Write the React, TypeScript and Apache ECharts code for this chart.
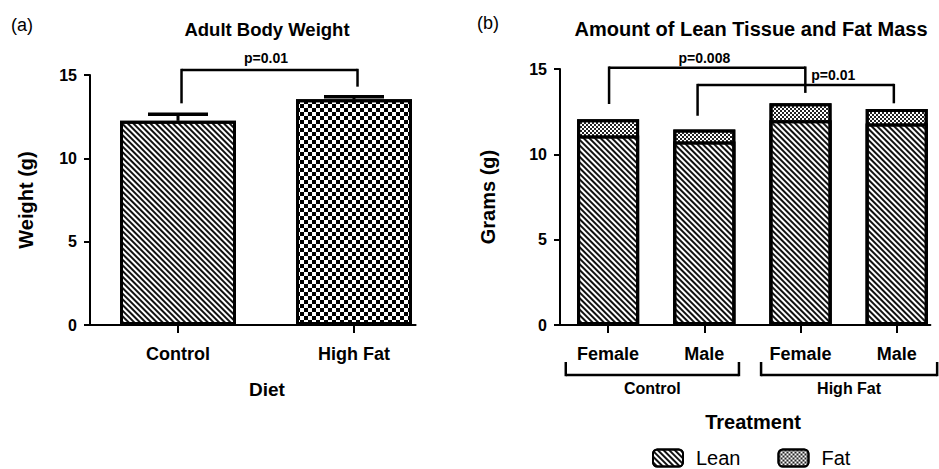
import React, { useEffect, useRef } from 'react';
import * as echarts from 'echarts';

// ---------- data ----------
const dietCategories = ['Control', 'High Fat'];
const bodyWeight = [12.25, 13.54];
const bodyWeightSEM = [0.4, 0.16];

const sexCategories = ['Female', 'Male', 'Female', 'Male'];
const leanMass = [11.1, 10.75, 12.0, 11.8];
const fatMass = [0.95, 0.7, 1.0, 0.85];

const yTickValues = [0, 5, 10, 15];

// significance brackets: [xStart, xEnd, yTop, yLeftEnd, yRightEnd, labelX]
const bracketsA = [[0.02, 1.02, 15.3, 13.3, 14.3, 0.5]];
const bracketLabelsA = ['p=0.01'];
const bracketsB = [
  [0.01, 2.05, 15.08, 12.95, 13.6, 1.0],
  [0.93, 2.97, 14.06, 12.26, 12.99, 2.34],
];
const bracketLabelsB = ['p=0.008', 'p=0.01'];

// treatment group spans beneath panel (b) axis: [xStart, xEnd]
const groupSpans = [[-0.44, 1.36], [1.59, 3.42]];
const groupLabels = ['Control', 'High Fat'];

const FONT = 'Arial, "Liberation Sans", Helvetica, sans-serif';

const stripeFine = {
  symbol: 'rect', color: '#111', backgroundColor: '#fff',
  dashArrayX: [1, 0], dashArrayY: [1.5, 1.6], rotation: Math.PI / 4,
};
const stripeLean = {
  symbol: 'rect', color: '#111', backgroundColor: '#fff',
  dashArrayX: [1, 0], dashArrayY: [2, 2], rotation: Math.PI / 4,
};
const checkerBig = {
  symbol: 'rect', color: '#000', backgroundColor: '#fff',
  dashArrayX: [[4, 4], [0, 4, 4, 0]], dashArrayY: [4, 0], rotation: 0,
};
const checkerFine = {
  symbol: 'rect', color: '#222', backgroundColor: '#fff',
  dashArrayX: [[2, 2], [0, 2, 2, 0]], dashArrayY: [2, 0], rotation: 0,
};

const LINE = { stroke: '#000', lineWidth: 2.5 };

function bracketRenderer(brackets: number[][], labels: string[], textGap: number) {
  return (params: any, api: any) => {
    const b = brackets[params.dataIndex];
    const pL = api.coord([b[0], b[2]]);
    const pR = api.coord([b[1], b[2]]);
    const pLE = api.coord([b[0], b[3]]);
    const pRE = api.coord([b[1], b[4]]);
    const pT = api.coord([b[5], b[2]]);
    return {
      type: 'group',
      children: [
        { type: 'line', shape: { x1: pL[0], y1: pL[1], x2: pR[0], y2: pR[1] }, style: LINE },
        { type: 'line', shape: { x1: pL[0], y1: pL[1] - 1.2, x2: pLE[0], y2: pLE[1] }, style: LINE },
        { type: 'line', shape: { x1: pR[0], y1: pR[1] - 1.2, x2: pRE[0], y2: pRE[1] }, style: LINE },
        {
          type: 'text',
          x: pT[0], y: pT[1] - textGap,
          style: {
            text: labels[params.dataIndex], fill: '#000',
            font: `bold 14px ${FONT}`, align: 'center', verticalAlign: 'bottom',
            textAlign: 'center', textVerticalAlign: 'bottom',
          },
        },
      ],
    };
  };
}

export default function App() {
  const ref = useRef<HTMLDivElement>(null);
  useEffect(() => {
    if (!ref.current) return;
    const chart = echarts.init(ref.current, undefined, { renderer: 'svg' });

    const axisCommonY = (name: string, gap: number) => ({
      type: 'value', min: 0, max: 15, interval: 5,
      name, nameLocation: 'middle', nameRotate: 90, nameGap: gap,
      nameTextStyle: { fontSize: 20, fontWeight: 'bold', fontFamily: FONT, color: '#000' },
      axisLine: { show: true, onZero: false, lineStyle: { color: '#000', width: 2 } },
      axisTick: { show: true, length: 6, lineStyle: { color: '#000', width: 2 }, customValues: yTickValues },
      axisLabel: { fontSize: 16, fontWeight: 'bold', fontFamily: FONT, color: '#000', margin: 13, customValues: yTickValues },
      splitLine: { show: false },
    });

    const option: any = {
      animation: false,
      backgroundColor: '#fff',
      grid: [
        { left: 90, top: 75, width: 325.6, height: 250 },
        { left: 560, top: 69, width: 370.4, height: 256 },
      ],
      xAxis: [
        {
          gridIndex: 0, type: 'value', min: -0.5, max: 1.35,
          axisLine: { show: true, onZero: false, lineStyle: { color: '#000', width: 2 } },
          axisTick: { show: true, length: 8, lineStyle: { color: '#000', width: 2 }, customValues: [0, 1] },
          axisLabel: {
            customValues: [0, 1], fontSize: 18, fontWeight: 'bold', fontFamily: FONT, color: '#000', margin: 20,
            formatter: (v: number) => dietCategories[Math.round(v)] ?? '',
          },
          splitLine: { show: false },
        },
        {
          gridIndex: 1, type: 'value', min: -0.5, max: 3.35,
          axisLine: { show: true, onZero: false, lineStyle: { color: '#000', width: 2 } },
          axisTick: { show: true, length: 8, lineStyle: { color: '#000', width: 2 }, customValues: [0, 1, 2, 3] },
          axisLabel: {
            customValues: [0, 1, 2, 3], fontSize: 18, fontWeight: 'bold', fontFamily: FONT, color: '#000', margin: 20,
            formatter: (v: number) => sexCategories[Math.round(v)] ?? '',
          },
          splitLine: { show: false },
        },
      ],
      yAxis: [
        { gridIndex: 0, ...axisCommonY('Weight (g)', 54) },
        { gridIndex: 1, ...axisCommonY('Grams (g)', 62) },
      ],
      legend: {
        data: ['Lean', 'Fat'], left: 652, top: 448, padding: 0,
        itemWidth: 30, itemHeight: 17, itemGap: 37, icon: 'roundRect',
        textStyle: { fontSize: 20, fontFamily: FONT, color: '#000', padding: [0, 0, 0, 8] },
      },
      graphic: [
        { type: 'text', x: 22, y: 25, style: { text: '(a)', font: `18px ${FONT}`, fill: '#000', align: 'center', verticalAlign: 'middle', textAlign: 'center', textVerticalAlign: 'middle' } },
        { type: 'text', x: 488, y: 23, style: { text: '(b)', font: `18px ${FONT}`, fill: '#000', align: 'center', verticalAlign: 'middle', textAlign: 'center', textVerticalAlign: 'middle' } },
        { type: 'text', x: 267, y: 29, style: { text: 'Adult Body Weight', font: `bold 18.5px ${FONT}`, fill: '#000', align: 'center', verticalAlign: 'middle', textAlign: 'center', textVerticalAlign: 'middle' } },
        { type: 'text', x: 751, y: 29, style: { text: 'Amount of Lean Tissue and Fat Mass', font: `bold 20px ${FONT}`, fill: '#000', align: 'center', verticalAlign: 'middle', textAlign: 'center', textVerticalAlign: 'middle' } },
        { type: 'text', x: 267, y: 389, style: { text: 'Diet', font: `bold 19px ${FONT}`, fill: '#000', align: 'center', verticalAlign: 'middle', textAlign: 'center', textVerticalAlign: 'middle' } },
        { type: 'text', x: 753, y: 422, style: { text: 'Treatment', font: `bold 20px ${FONT}`, fill: '#000', align: 'center', verticalAlign: 'middle', textAlign: 'center', textVerticalAlign: 'middle' } },
      ],
      series: [
        {
          name: 'Body Weight', type: 'bar', xAxisIndex: 0, yAxisIndex: 0, barWidth: 116,
          itemStyle: { color: '#fff', borderColor: '#000', borderWidth: 3 },
          data: bodyWeight.map((v, i) => ({
            value: [i, v],
            itemStyle: { decal: i === 0 ? stripeFine : checkerBig },
          })),
        },
        {
          name: 'SEM', type: 'custom', xAxisIndex: 0, yAxisIndex: 0, z: 1,
          data: bodyWeight.map((v, i) => [i, v, v + bodyWeightSEM[i]]),
          encode: { x: 0, y: [1, 2] },
          renderItem: (params: any, api: any) => {
            const lo = api.coord([api.value(0), api.value(1)]);
            const hi = api.coord([api.value(0), api.value(2)]);
            return {
              type: 'group',
              children: [
                { type: 'line', shape: { x1: lo[0], y1: lo[1], x2: hi[0], y2: hi[1] }, style: { stroke: '#000', lineWidth: 3 } },
                { type: 'line', shape: { x1: hi[0] - 30, y1: hi[1], x2: hi[0] + 30, y2: hi[1] }, style: { stroke: '#000', lineWidth: 3.5 } },
              ],
            };
          },
        },
        {
          name: 'BracketA', type: 'custom', xAxisIndex: 0, yAxisIndex: 0, clip: false,
          data: bracketsA, encode: { x: 0, y: 2 },
          renderItem: bracketRenderer(bracketsA, bracketLabelsA, 5),
        },
        {
          name: 'Fat', type: 'bar', xAxisIndex: 1, yAxisIndex: 1, barWidth: 62, barGap: '-100%', z: 2,
          itemStyle: { color: '#fff', borderColor: '#000', borderWidth: 3, decal: checkerFine },
          data: leanMass.map((v, i) => [i, v + fatMass[i]]),
        },
        {
          name: 'Lean', type: 'bar', xAxisIndex: 1, yAxisIndex: 1, barWidth: 62, barGap: '-100%', z: 3,
          itemStyle: { color: '#fff', borderColor: '#000', borderWidth: 3, decal: stripeLean },
          data: leanMass.map((v, i) => [i, v]),
        },
        {
          name: 'BracketB', type: 'custom', xAxisIndex: 1, yAxisIndex: 1, clip: false,
          data: bracketsB, encode: { x: 0, y: 2 },
          renderItem: bracketRenderer(bracketsB, bracketLabelsB, 3),
        },
        {
          name: 'Groups', type: 'custom', xAxisIndex: 1, yAxisIndex: 1, clip: false,
          data: groupSpans.map((s) => [s[0], s[1], 0]), encode: { x: 0, y: 2 },
          renderItem: (params: any, api: any) => {
            const s = groupSpans[params.dataIndex];
            const a = api.coord([s[0], 0]);
            const b = api.coord([s[1], 0]);
            const yLine = a[1] + 50;
            const yLeg = a[1] + 37;
            return {
              type: 'group',
              children: [
                { type: 'line', shape: { x1: a[0], y1: yLine, x2: b[0], y2: yLine }, style: LINE },
                { type: 'line', shape: { x1: a[0], y1: yLine + 1.2, x2: a[0], y2: yLeg }, style: LINE },
                { type: 'line', shape: { x1: b[0], y1: yLine + 1.2, x2: b[0], y2: yLeg }, style: LINE },
                { type: 'text', x: (a[0] + b[0]) / 2, y: yLine + 13, style: { text: groupLabels[params.dataIndex], fill: '#000', font: `bold 16px ${FONT}`, align: 'center', verticalAlign: 'middle', textAlign: 'center', textVerticalAlign: 'middle' } },
              ],
            };
          },
        },
      ],
    };
    chart.setOption(option);
    return () => chart.dispose();
  }, []);
  return <div ref={ref} style={{ position: 'absolute', left: 0, top: 0, width: 939, height: 469 }} />;
}
